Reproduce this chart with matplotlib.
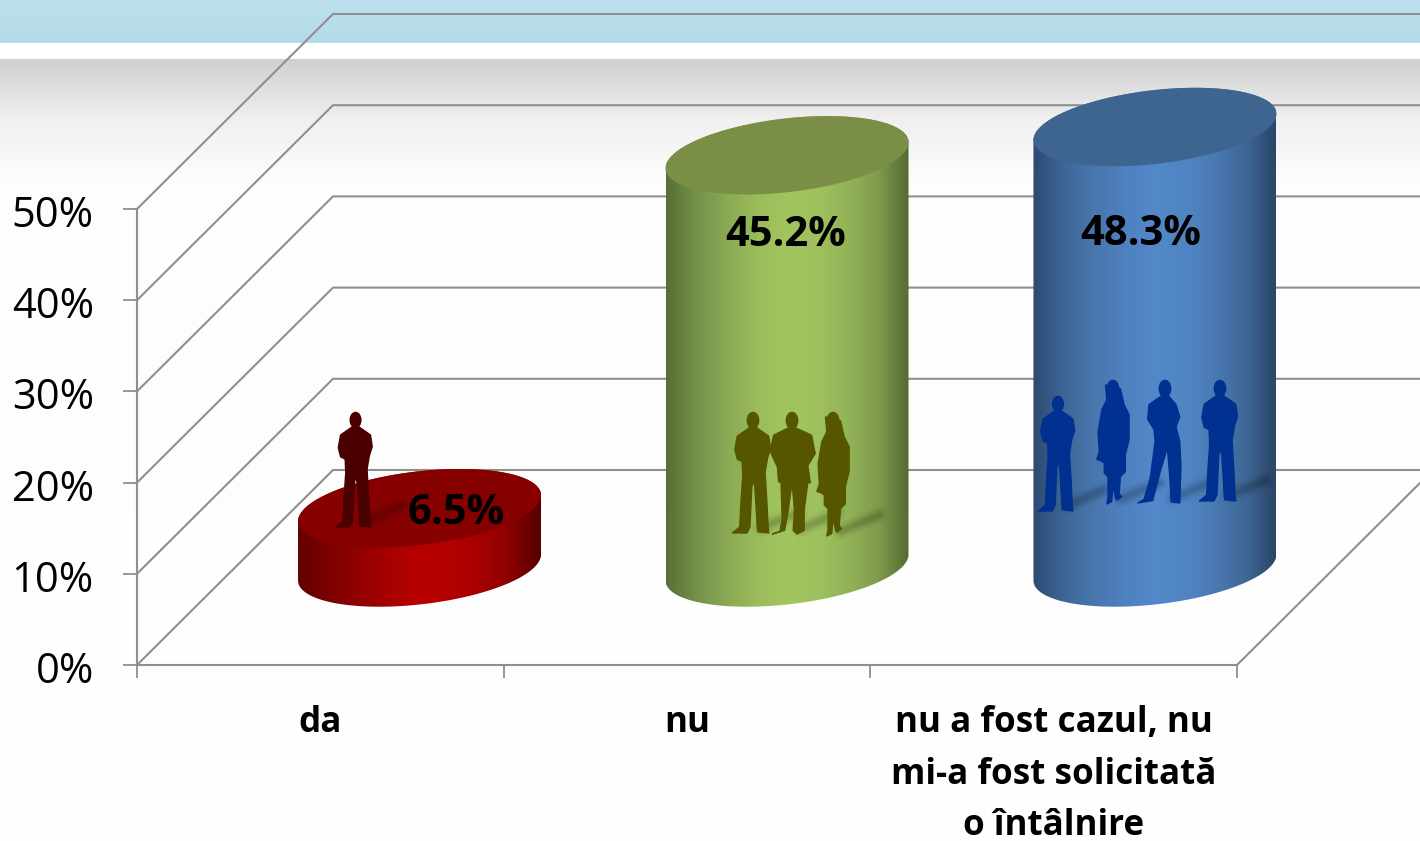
import numpy as np
import matplotlib
matplotlib.use('Agg')
import matplotlib.pyplot as plt
from matplotlib.patches import Polygon, Ellipse
from matplotlib.colors import LinearSegmentedColormap
from matplotlib.transforms import ScaledTranslation

categories = ['da', 'nu', 'nu a fost cazul, nu\nmi-a fost solicitată\no întâlnire']
values = [6.5, 45.2, 48.3]
value_labels = ['6.5%', '45.2%', '48.3%']
y_ticks = [0, 10, 20, 30, 40, 50]

# styles per bar: side gradient from left edge to right edge, and top colour
side_colors = [['#620000', '#7c0000', '#920000', '#a80000', '#b80000', '#b40000', '#a60000', '#8a0000', '#560000'],
               ['#566f36', '#75924a', '#8aa954', '#9abc5b', '#a2c55f', '#9fc15d', '#93b358', '#7f9c4c', '#546a33'],
               ['#2c4a72', '#3e6696', '#4876ad', '#4f81bf', '#5388c9', '#5085c4', '#4a7ab3', '#3f6797', '#2a4568']]
top_colors = ['#870000', '#7a8f45', '#3e6490']
people_colors = ['#4a0000', '#565600', '#003090']

# layout tweaks per bar, in pixels: bar nudge, label offset from bar centre / bar top
bar_nudges = [-0.8, 0, 1.3]
label_offsets = [(37, 5), (-1, 80), (-14, 107)]

# figure is 1420x841, plot box in pixels
W, H = 1420, 841
LEFT, RIGHT, TOP, BOTTOM = 137, 1237, 209, 665
PX_X = (RIGHT - LEFT) / 3.0
PX_Y = (BOTTOM - TOP) / 50.0
DEPTH_X = 196 / PX_X
DEPTH_Y = 195 / PX_Y
BAR_SHIFT_X = 100 / PX_X
BAR_SHIFT_Y = 97.5 / PX_Y
BAR_RX, BAR_TILT, BAR_RY = 121.5, 13.0, 37.0
GRID = '#8f8f8f'

# silhouettes in unit height, feet on y=0
MAN = [(-.03, .87), (-.13, .80), (-.15, .69), (-.13, .61), (-.09, .59), (-.085, .47), (-.10, .25),
       (-.11, .05), (-.17, 0), (-.05, 0), (-.025, .05), (-.01, .38), (0, .44), (.015, .38), (.035, .05),
       (.04, .01), (.13, 0), (.125, .05), (.115, .25), (.10, .50), (.12, .62), (.145, .70), (.13, .80), (.03, .87)]
JACKET = [(-.03, .87), (-.15, .81), (-.18, .68), (-.12, .55), (-.11, .43), (-.09, .42), (-.08, .12),
          (-.10, .02), (-.16, 0), (-.06, .03), (-.03, .20), (0, .42), (.02, .20), (.01, .03), (.04, 0),
          (.10, .03), (.10, .20), (.13, .42), (.15, .42), (.13, .56), (.19, .66), (.16, .81), (.03, .87)]
WOMAN = [(-.06, .96), (-.05, .84), (-.09, .76), (-.12, .58), (-.11, .42), (-.13, .36), (-.10, .35),
         (-.07, .33), (-.07, .25), (-.04, .22), (-.04, .05), (-.05, 0), (-.01, .02), (.0, .15), (.02, .05),
         (.03, .03), (.07, .06), (.05, .08), (.06, .22), (.10, .26), (.10, .40), (.13, .52), (.13, .72),
         (.09, .80), (.06, .93)]
PANTS = [(-.03, .87), (-.13, .80), (-.14, .68), (-.09, .60), (-.08, .50), (-.12, .20), (-.17, .03),
         (-.22, 0), (-.10, .02), (-.04, .25), (.02, .45), (.04, .20), (.05, .01), (.12, 0),
         (.13, .30), (.12, .50), (.09, .62), (.12, .70), (.09, .80), (.03, .87)]
POSES = {'man': MAN, 'jacket': JACKET, 'woman': WOMAN, 'pants': PANTS}

# pose, x offset from bar centre, height above bar base, size (all pixels)
people = [
    [('man', -64, 40.5, 115)],
    [('man', -34, 34.5, 121), ('jacket', 5, 33.5, 122), ('woman', 46, 31.5, 124)],
    [('man', -97, 56.5, 115), ('woman', -42, 63.5, 124), ('pants', 10, 64.5, 123), ('man', 65, 66.5, 121)],
]


def draw_background(fig):
    bg = fig.add_axes([0, 0, 1, 1], zorder=0)
    rows = np.arange(H)
    stops = [0, 42, 43, 58, 59, 120, 180, 841]
    reds = [188, 180, 255, 255, 208, 240, 253, 255]
    greens = [224, 219, 255, 255, 208, 240, 253, 255]
    blues = [236, 234, 255, 255, 208, 240, 253, 255]
    img = np.stack([np.interp(rows, stops, c) for c in (reds, greens, blues)], axis=1)[:, None, :] / 255
    bg.imshow(img, aspect='auto', extent=(0, 1, 0, 1))
    bg.axis('off')


def draw_walls(ax):
    for v in y_ticks:
        ax.plot([-0.5, -0.5 + DEPTH_X, 4], [v, v + DEPTH_Y, v + DEPTH_Y], color=GRID, lw=1.5,
                clip_on=False, zorder=1, solid_joinstyle='miter')
    ax.plot([2.5, 2.5 + DEPTH_X], [0, DEPTH_Y], color=GRID, lw=1.5, clip_on=False, zorder=1)


def ellipse_points(cx, cy, t):
    x = cx + BAR_RX / PX_X * np.cos(t)
    y = cy + (BAR_TILT * np.cos(t) + BAR_RY * np.sin(t)) / PX_Y
    return np.column_stack([x, y])


def draw_cylinder(ax, i, value):
    cx = i + BAR_SHIFT_X + bar_nudges[i] / PX_X
    base = BAR_SHIFT_Y
    top = base + value
    arc = ellipse_points(cx, base, np.linspace(np.pi, 2 * np.pi, 120))
    upper = ellipse_points(cx, top, np.linspace(0, np.pi, 120))
    side = Polygon(np.vstack([arc, upper]), closed=True, transform=ax.transData, fc='none', ec='none')
    ax.add_patch(side)
    cmap = LinearSegmentedColormap.from_list('side', side_colors[i])
    dx = BAR_RX / PX_X
    im = ax.imshow(np.linspace(0, 1, 256)[None, :], cmap=cmap, aspect='auto', zorder=3,
                   extent=(cx - dx, cx + dx, base - 8, top + 8), interpolation='bilinear')
    im.set_clip_box(ax.figure.bbox)
    im.set_clip_path(side)
    lid = Polygon(ellipse_points(cx, top, np.linspace(0, 2 * np.pi, 240)), closed=True, fc=top_colors[i],
                  ec='none', zorder=4, clip_on=False)
    ax.add_patch(lid)

    # shadows first, people on top
    for pose, ox, oy, size in people[i]:
        sx0, sy0 = cx + (ox + 8) / PX_X, base + (oy + 5) / PX_Y
        sx1, sy1 = sx0 + 38 / PX_X, sy0 + 16 / PX_Y
        for lw, a in [(13, .015), (11, .02), (9, .03), (7, .04), (5, .05), (3, .05)]:
            ax.plot([sx0, sx1], [sy0, sy1], color='black', alpha=a, lw=lw, zorder=5, clip_on=False,
                    solid_capstyle='round')
    for pose, ox, oy, size in people[i]:
        pts = np.array(POSES[pose]) * size
        pts = np.column_stack([cx + (ox + pts[:, 0]) / PX_X, base + (oy + pts[:, 1]) / PX_Y])
        ax.add_patch(Polygon(pts, closed=True, fc=people_colors[i], ec=people_colors[i], lw=1, joinstyle='round',
                             zorder=6, clip_on=False))
        head = Ellipse((cx + ox / PX_X, base + (oy + .93 * size) / PX_Y), .105 * size / PX_X, .145 * size / PX_Y,
                       fc=people_colors[i], ec='none', zorder=6, clip_on=False)
        ax.add_patch(head)

    ox, oy = label_offsets[i]
    ax.text(cx + ox / PX_X, top - oy / PX_Y, value_labels[i], ha='center', va='center', fontsize=30,
            fontweight='bold', color='black', zorder=8)


if __name__ == '__main__':
    plt.rcParams['font.family'] = ['Open Sans', 'DejaVu Sans']
    fig = plt.figure(figsize=(W / 100, H / 100), dpi=100)
    draw_background(fig)
    ax = fig.add_axes([LEFT / W, (H - BOTTOM) / H, (RIGHT - LEFT) / W, (BOTTOM - TOP) / H], zorder=1)
    ax.patch.set_alpha(0)
    draw_walls(ax)
    for i, value in enumerate(values):
        draw_cylinder(ax, i, value)
    ax.set_xlim(-0.5, 2.5)
    ax.set_ylim(0, 50)
    ax.set_yticks(y_ticks)
    ax.set_yticklabels(['%d%%' % v for v in y_ticks])
    ax.set_xticks(range(3))
    ax.set_xticklabels(categories, fontweight='bold', fontsize=25.2, linespacing=1.57)
    ax.set_xticks([-0.5, 0.5, 1.5, 2.5], minor=True)
    ax.tick_params(axis='x', which='major', length=0, pad=29)
    ax.tick_params(axis='x', which='minor', length=9.5, width=1.3, color=GRID)
    ax.tick_params(axis='y', length=10, width=1.3, color=GRID, pad=21, labelsize=30)
    # tick labels sit a little below their ticks in the original
    for label in ax.get_yticklabels():
        label.set_transform(label.get_transform() + ScaledTranslation(0, -2 / 100, fig.dpi_scale_trans))
    for name in ['top', 'right']:
        ax.spines[name].set_visible(False)
    for name in ['left', 'bottom']:
        ax.spines[name].set_color(GRID)
        ax.spines[name].set_linewidth(1.5)
    fig.savefig('out.png', dpi=100)
